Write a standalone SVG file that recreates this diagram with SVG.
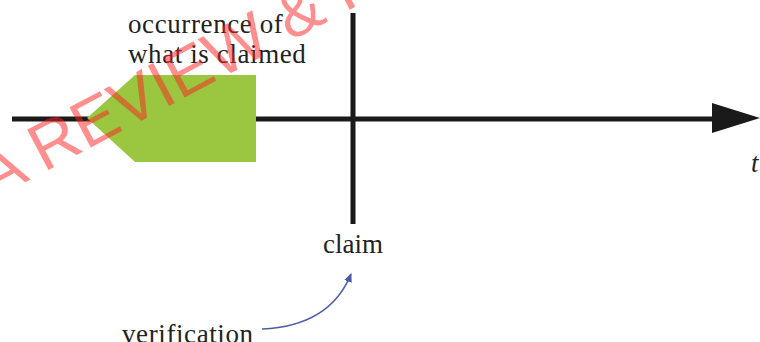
<svg xmlns="http://www.w3.org/2000/svg" width="760" height="342" viewBox="0 0 760 342">
<style>
.lbl{font-family:"Liberation Serif","Times New Roman",serif;font-size:27px;fill:#222;letter-spacing:0.6px}
.ax{stroke:#1a1a1a;stroke-width:5;fill:none}
.wm{font-family:"Liberation Sans",Arial,sans-serif;font-size:66px;fill:#ff2020;fill-opacity:0.5}
</style>
<defs>
<marker id="blueHead" markerWidth="10" markerHeight="10" refX="8" refY="5" orient="auto" markerUnits="userSpaceOnUse">
<path d="M0,1 L9,5 L0,9 Z" fill="#4a5ea8"/>
</marker>
</defs>
<rect width="760" height="342" fill="#fff"/>
<g id="connectors">
<line class="ax" x1="12" y1="119" x2="716" y2="119"/>
<polygon points="712,103 760,118 712,133" fill="#1a1a1a"/>
<line class="ax" x1="353" y1="13" x2="353" y2="224"/>
<path d="M262,329 Q330,326 351,274" fill="none" stroke="#4a5ea8" stroke-width="1.6" marker-end="url(#blueHead)"/>
</g>
<g id="occurrence">
<polygon points="87,118 135,75 256,75 256,162 135,162" fill="#9ac640"/>
<text class="lbl" x="128" y="33">occurrence of</text>
<text class="lbl" x="128" y="63">what is claimed</text>
</g>
<g id="claim">
<text class="lbl" x="353" y="253" text-anchor="middle" style="letter-spacing:0">claim</text>
</g>
<g id="verification">
<text class="lbl" x="122" y="343">verification</text>
</g>
<g id="time">
<text class="lbl" x="751" y="172" font-style="italic">t</text>
</g>
<g id="watermark">
<text class="wm" x="0" y="0" transform="translate(-8,200) rotate(-28)">A REVIEW &amp; F</text>
</g>
</svg>
